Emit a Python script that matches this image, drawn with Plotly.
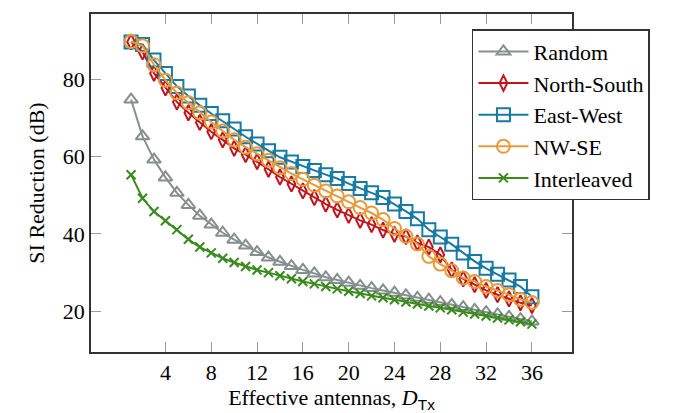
import plotly.graph_objects as go

x_antennas = list(range(1, 37))

random_db = [74.7, 65.2, 59.2, 54.6, 50.6, 47.5, 44.7, 42.4, 40.3, 38.5, 37.0, 35.3,
             33.9, 32.8, 31.7, 30.7, 29.8, 28.8, 28.1, 27.4, 26.6, 26.0, 25.4, 24.8,
             24.1, 23.5, 23.0, 22.4, 21.7, 21.1, 20.4, 19.8, 19.2, 18.6, 18.0, 17.4]
north_south_db = [89.6, 87.0, 81.5, 77.7, 74.1, 71.3, 68.8, 66.4, 64.3, 62.1, 60.5, 58.7,
                  56.7, 54.7, 52.9, 51.1, 49.4, 47.7, 46.2, 44.8, 43.5, 42.4, 41.0, 39.9,
                  39.3, 37.7, 36.6, 34.6, 30.7, 28.4, 26.9, 25.4, 24.3, 23.2, 22.2, 21.5]
east_west_db = [89.6, 88.9, 84.9, 81.4, 78.1, 75.6, 73.2, 71.1, 69.2, 67.1, 65.1, 63.2,
                61.5, 59.8, 58.6, 57.4, 56.4, 55.3, 54.3, 53.0, 51.7, 50.6, 49.4, 47.7,
                45.8, 43.9, 41.1, 39.2, 37.3, 35.1, 32.9, 31.1, 29.6, 28.1, 26.4, 23.8]
nw_se_db = [89.7, 88.6, 83.7, 79.7, 76.4, 73.9, 71.3, 68.9, 66.6, 64.3, 62.4, 60.7,
            59.0, 57.1, 55.6, 54.1, 52.6, 51.1, 49.8, 48.3, 46.8, 45.4, 43.7, 41.4,
            39.4, 37.4, 34.2, 32.2, 30.5, 28.6, 27.7, 26.4, 25.4, 24.3, 23.1, 22.3]
interleaved_db = [55.3, 49.2, 45.8, 43.4, 41.1, 38.6, 36.6, 35.1, 33.7, 32.6, 31.6, 30.7,
                  30.0, 29.2, 28.4, 27.7, 27.1, 26.4, 25.8, 25.2, 24.6, 24.0, 23.5, 23.0,
                  22.4, 21.9, 21.4, 20.9, 20.4, 19.8, 19.3, 18.8, 18.3, 17.8, 17.3, 16.7]

x_tick_vals = [4, 8, 12, 16, 20, 24, 28, 32, 36]
y_tick_vals = [20, 40, 60, 80]

FONT = "Liberation Serif"

series = [
    ("Random", random_db, "#868f8f", "triangle-up-open", 12),
    ("North-South", north_south_db, "#c0141c", "diamond-tall-open", 11),
    ("East-West", east_west_db, "#177aa3", "square-open", 13),
    ("NW-SE", nw_se_db, "#e89a3c", "circle-open", 13),
    ("Interleaved", interleaved_db, "#3a8a1e", "x-thin-open", 9),
]

fig = go.Figure()
for name, vals, color, symbol, size in series:
    fig.add_trace(go.Scatter(
        x=x_antennas, y=vals, name=name, mode="lines+markers",
        line=dict(color=color, width=2),
        marker=dict(symbol=symbol, size=size, color=color,
                    line=dict(color=color, width=2)),
    ))

axis_common = dict(
    showline=True, linecolor="#333333", linewidth=1.5, mirror="ticks",
    ticks="inside", ticklen=10, tickcolor="#9a9a9a", tickwidth=1,
    showgrid=False, zeroline=False,
    tickfont=dict(family=FONT, size=22, color="black"),
)

fig.update_layout(
    width=675, height=413,
    margin=dict(l=83, r=111, t=4, b=69),
    paper_bgcolor="white", plot_bgcolor="white",
    font=dict(family=FONT, size=22, color="black"),
    xaxis=dict(range=[-2.5, 39.5], tickvals=x_tick_vals,
               title=dict(text="Effective antennas, <i>D</i><sub><span style='font-family:Liberation Sans'>Tx</span></sub>",
                          font=dict(family=FONT, size=22), standoff=0),
               **axis_common),
    yaxis=dict(range=[9.5, 96.8], tickvals=y_tick_vals,
               title=dict(text="SI Reduction (dB)", font=dict(family=FONT, size=22), standoff=12),
               **axis_common),
    legend=dict(x=0.792, y=0.955, xanchor="left", yanchor="top",
                bgcolor="white", bordercolor="#333333", borderwidth=1.5,
                font=dict(family=FONT, size=22), tracegroupgap=0,
                itemwidth=50),
    showlegend=True,
)

fig.write_html("out.html")
